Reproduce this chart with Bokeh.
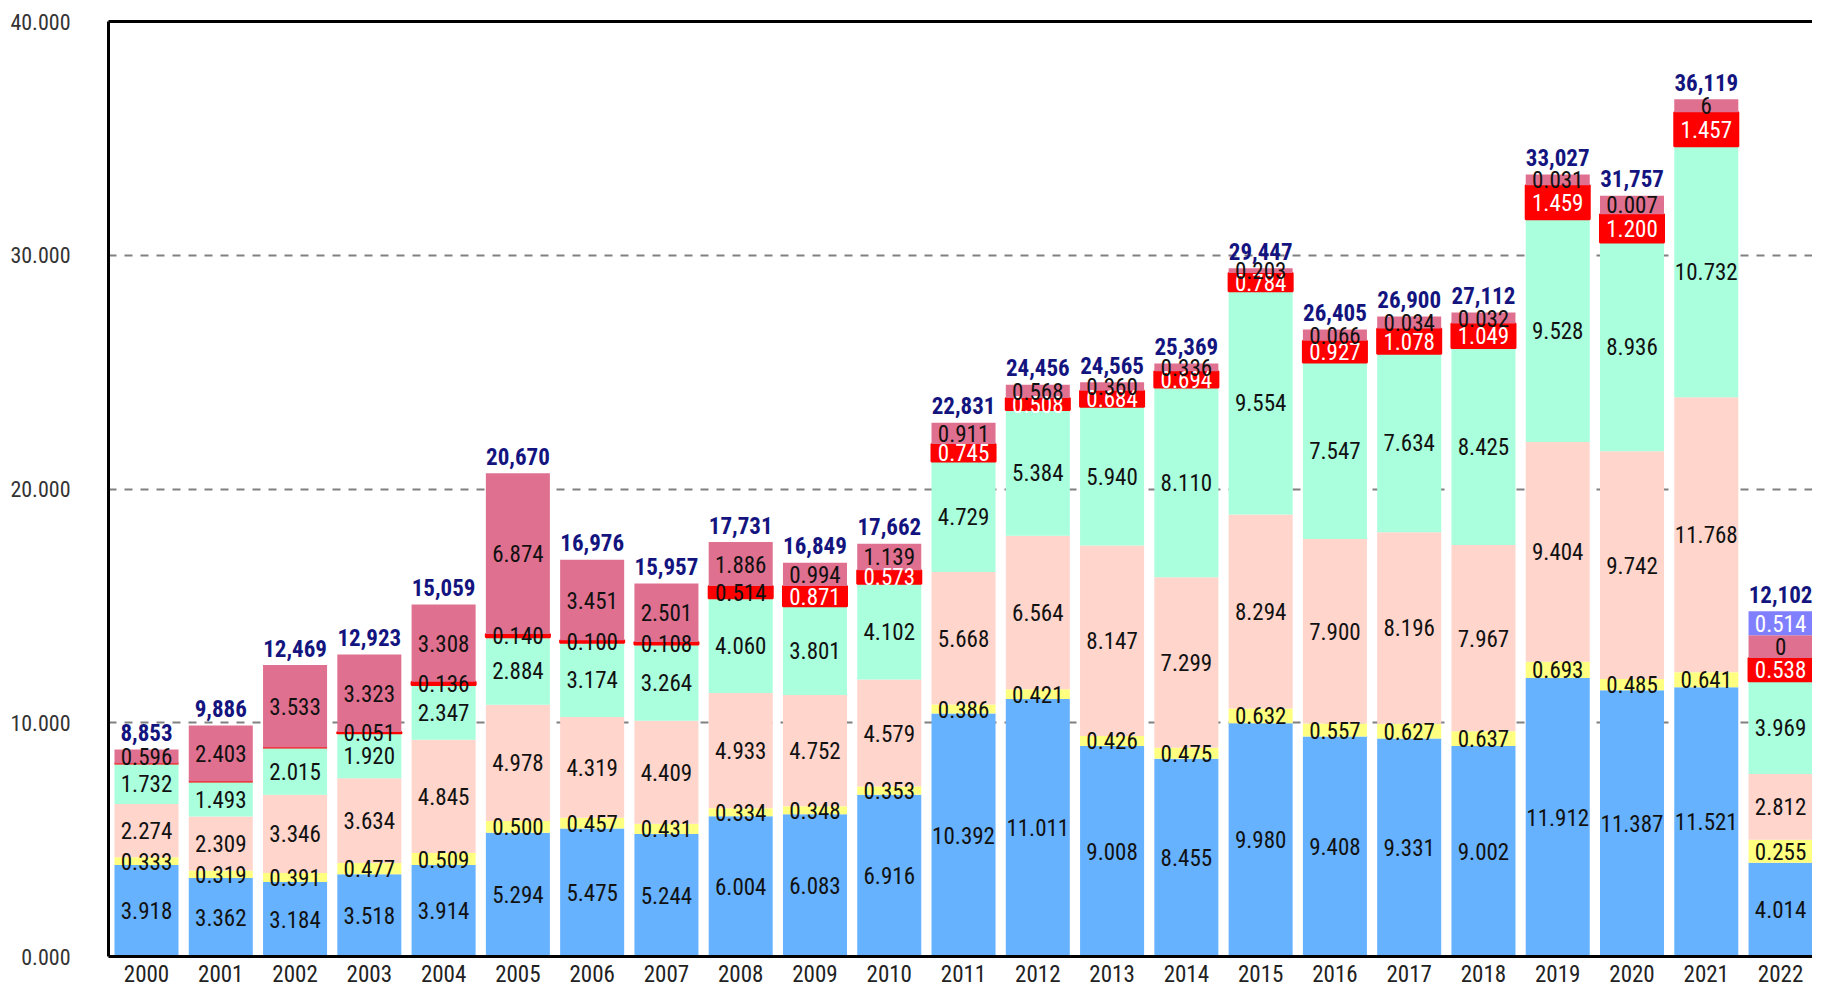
from bokeh.plotting import figure
from bokeh.models import ColumnDataSource, Range1d, FixedTicker, LinearAxis, NumeralTickFormatter
from bokeh.core.properties import value
from bokeh.embed import file_html
from bokeh.resources import INLINE

FONT = "Roboto Condensed, DejaVu Sans Condensed, sans-serif"

years = ["2000", "2001", "2002", "2003", "2004", "2005", "2006", "2007", "2008", "2009", "2010",
         "2011", "2012", "2013", "2014", "2015", "2016", "2017", "2018", "2019", "2020", "2021", "2022"]

# values as printed on the segments (thousands)
blue = [3.918, 3.362, 3.184, 3.518, 3.914, 5.294, 5.475, 5.244, 6.004, 6.083, 6.916, 10.392,
        11.011, 9.008, 8.455, 9.980, 9.408, 9.331, 9.002, 11.912, 11.387, 11.521, 4.014]
yellow = [0.333, 0.319, 0.391, 0.477, 0.509, 0.500, 0.457, 0.431, 0.334, 0.348, 0.353, 0.386,
          0.421, 0.426, 0.475, 0.632, 0.557, 0.627, 0.637, 0.693, 0.485, 0.641, 0.255]
peach = [2.274, 2.309, 3.346, 3.634, 4.845, 4.978, 4.319, 4.409, 4.933, 4.752, 4.579, 5.668,
         6.564, 8.147, 7.299, 8.294, 7.900, 8.196, 7.967, 9.404, 9.742, 11.768, 2.812]
mint = [1.732, 1.493, 2.015, 1.920, 2.347, 2.884, 3.174, 3.264, 4.060, 3.801, 4.102, 4.729,
        5.384, 5.940, 8.110, 9.554, 7.547, 7.634, 8.425, 9.528, 8.936, 10.732, 3.969]
red = [0, 0, 0, 0.051, 0.136, 0.140, 0.100, 0.108, 0.514, 0.871, 0.573, 0.745,
       0.508, 0.684, 0.694, 0.784, 0.927, 1.078, 1.049, 1.459, 1.200, 1.457, 0.538]
pink = [0.596, 2.403, 3.533, 3.323, 3.308, 6.874, 3.451, 2.501, 1.886, 0.994, 1.139, 0.911,
        0.568, 0.360, 0.336, 0.203, 0.066, 0.034, 0.032, 0.031, 0.007, 6, 0]
purple = [0, 0, 0, 0, 0, 0, 0, 0, 0, 0, 0, 0, 0, 0, 0, 0, 0, 0, 0, 0, 0, 0, 0.514]

# heights of the drawn segments where they differ from the printed values
yellow_bar = [0.333, 0.319, 0.391, 0.477, 0.509, 0.500, 0.457, 0.431, 0.334, 0.348, 0.353, 0.386,
              0.421, 0.426, 0.475, 0.632, 0.557, 0.627, 0.637, 0.693, 0.485, 0.641, 0.98]
red_bar = [0, 0, 0, 0.051, 0.136, 0.140, 0.100, 0.108, 0.514, 0.871, 0.573, 0.745,
           0.508, 0.684, 0.694, 0.784, 0.927, 1.078, 1.049, 1.459, 1.200, 1.457, 1.00]
pink_bar = [0.596, 2.403, 3.533, 3.323, 3.308, 6.874, 3.451, 2.501, 1.886, 0.994, 1.139, 0.911,
            0.568, 0.360, 0.336, 0.203, 0.48, 0.51, 0.47, 0.46, 0.80, 0.55, 0.97]
purple_bar = [0, 0, 0, 0, 0, 0, 0, 0, 0, 0, 0, 0, 0, 0, 0, 0, 0, 0, 0, 0, 0, 0, 1.03]

totals = [8853, 9886, 12469, 12923, 15059, 20670, 16976, 15957, 17731, 16849, 17662, 22831,
          24456, 24565, 25369, 29447, 26405, 26900, 27112, 33027, 31757, 36119, 12102]

names = ["blue", "yellow", "peach", "mint", "red", "pink", "purple"]
printed = dict(blue=blue, yellow=yellow, peach=peach, mint=mint, red=red, pink=pink, purple=purple)
drawn = dict(blue=blue, yellow=yellow_bar, peach=peach, mint=mint, red=red_bar, pink=pink_bar, purple=purple_bar)
colors = dict(blue="#66B2FF", yellow="#FFFF80", peach="#FFD5CC", mint="#AAFFDD",
              red="#FF0000", pink="#E07090", purple="#8080FF")

x = list(range(len(years)))
src = ColumnDataSource(dict(x=x, **drawn))

p = figure(width=1812, height=992, x_range=Range1d(-0.5116, 22.43), y_range=Range1d(0, 40),
           output_backend="svg", toolbar_location=None,
           min_border_left=108, min_border_right=0, min_border_top=21, min_border_bottom=36)
p.outline_line_color = None
p.background_fill_color = "white"
p.border_fill_color = "white"

p.vbar_stack(names, x="x", width=0.862, source=src,
             fill_color=[colors[n] for n in names],
             line_color=[colors[n] for n in names],
             line_width=[1, 1, 1, 1, 2, 1, 1],
             line_alpha=[0, 0, 0, 0, 1, 0, 0])


def fmt(v):
    if float(v).is_integer():
        return str(int(v))
    return f"{v:.3f}"


lx, ly, lt, lc = [], [], [], []
tops = []
for i in x:
    base = 0.0
    for n in names:
        h = drawn[n][i]
        if h > 0:
            lx.append(i)
            ly.append(base + h / 2)
            lt.append(fmt(printed[n][i]))
            white = (n == "purple") or (n == "red" and int(years[i]) >= 2009)
            lc.append("white" if white else "#111111")
        base += h
    tops.append(base)

p.text(x="x", y="y", text="t", text_color="c",
       source=ColumnDataSource(dict(x=lx, y=ly, t=lt, c=lc)),
       text_font=value(FONT), text_font_size=value("23px"),
       text_align="center", text_baseline="middle")

p.text(x="x", y="y", text="t",
       source=ColumnDataSource(dict(x=x, y=tops, t=[f"{t:,}" for t in totals])),
       text_font=value(FONT), text_font_size=value("23px"), text_font_style="bold",
       text_color="#14147F", text_align="center", text_baseline="middle", y_offset=-17)

# axes
p.xaxis.ticker = FixedTicker(ticks=x)
p.xaxis.major_label_overrides = {i: y for i, y in zip(x, years)}
p.xaxis.axis_line_width = 3
p.xaxis.axis_line_color = "black"
p.xaxis.major_tick_line_color = None
p.xaxis.minor_tick_line_color = None
p.xaxis.major_tick_out = 0
p.xaxis.major_label_standoff = 8
p.xaxis.major_label_text_font = FONT
p.xaxis.major_label_text_font_size = "23px"
p.xaxis.major_label_text_color = "#222222"

p.yaxis.ticker = FixedTicker(ticks=[0, 10, 20, 30, 40])
p.yaxis.formatter = NumeralTickFormatter(format="0.000")
p.yaxis.axis_line_width = 3
p.yaxis.axis_line_color = "black"
p.yaxis.major_tick_line_color = None
p.yaxis.minor_tick_line_color = None
p.yaxis.major_tick_out = 0
p.yaxis.major_label_standoff = 38
p.yaxis.major_label_text_font = FONT
p.yaxis.major_label_text_font_size = "22px"
p.yaxis.major_label_text_color = "#333333"

top_axis = LinearAxis(ticker=FixedTicker(ticks=[]), axis_line_width=3, axis_line_color="black",
                      major_tick_line_color=None, minor_tick_line_color=None,
                      major_tick_out=0, major_label_standoff=0,
                      major_label_text_font_size="0px")
p.add_layout(top_axis, "above")

p.xgrid.visible = False
p.ygrid.ticker = FixedTicker(ticks=[10, 20, 30])
p.ygrid.grid_line_color = "#808080"
p.ygrid.grid_line_width = 2
p.ygrid.grid_line_dash = "8 8"

open("out.html", "w").write(file_html(p, INLINE))
